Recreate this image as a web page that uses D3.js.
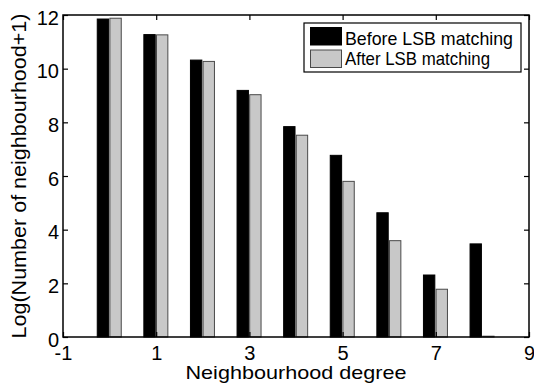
<!DOCTYPE html>
<html>
<head>
<meta charset="utf-8">
<script src="https://cdnjs.cloudflare.com/ajax/libs/d3/7.8.5/d3.min.js"></script>
<style>
  body { margin: 0; background: #fff; }
  text { font-family: "Liberation Sans", Arial, sans-serif; fill: #000; }
</style>
</head>
<body>
<div id="chart"></div>
<script>
const degrees = [0, 1, 2, 3, 4, 5, 6, 7, 8];
const beforeLSB = [11.85, 11.27, 10.32, 9.19, 7.84, 6.77, 4.63, 2.31, 3.47];
const afterLSB  = [11.88, 11.26, 10.27, 9.03, 7.52, 5.80, 3.59, 1.78, 0.03];
const seriesNames = ["Before LSB matching", "After LSB matching"];
const xTicks = [-1, 1, 3, 5, 7, 9];
const yTicks = [0, 2, 4, 6, 8, 10, 12];

const width  = 534;
const height = 390;
const margin = { top: 15, right: 5, bottom: 53, left: 63 };
const innerWidth  = width  - margin.left - margin.right;
const innerHeight = height - margin.top  - margin.bottom;

const svg = d3.select("#chart")
  .append("svg")
  .attr("width", width)
  .attr("height", height);

const inner = svg.append("g")
  .attr("transform", `translate(${margin.left}, ${margin.top})`);

const xScale = d3.scaleLinear().domain([-1, 9]).range([0, innerWidth]);
const yScale = d3.scaleLinear().domain([0, 12]).range([innerHeight, 0]);

// offset of each series inside a group, in x units
const subScale = d3.scaleBand()
  .domain(seriesNames)
  .range([-0.265, 0.25])
  .paddingInner(0.1);

const colors = { fill: ["#000000", "#c8c8c8"], stroke: ["#000000", "#4a4a4a"] };

const rows = degrees.map((d, i) => ({ degree: d, values: [beforeLSB[i], afterLSB[i]] }));

rows.forEach(row => {
  inner.selectAll(null)
    .data(row.values)
    .join("rect")
      .attr("x", (v, j) => xScale(row.degree + subScale(seriesNames[j])))
      .attr("y", v => yScale(v))
      .attr("width", xScale(subScale.bandwidth()) - xScale(0))
      .attr("height", v => yScale(0) - yScale(v))
      .attr("fill", (v, j) => colors.fill[j])
      .attr("stroke", (v, j) => colors.stroke[j])
      .attr("stroke-width", 1);
});

// axes with inward ticks on all four sides
const styleAxis = g => {
  g.select(".domain").remove();
  g.selectAll(".tick line").attr("stroke", "#000").attr("stroke-width", 1.2);
  g.selectAll(".tick text").style("font-size", "20px");
};

const plain = d => String(d);

inner.append("g")
  .attr("transform", `translate(0, ${innerHeight})`)
  .call(d3.axisBottom(xScale).tickValues(xTicks).tickFormat(plain)
    .tickSizeInner(-5).tickSizeOuter(0).tickPadding(8.8))
  .call(styleAxis);

inner.append("g")
  .call(d3.axisLeft(yScale).tickValues(yTicks).tickFormat(plain)
    .tickSizeInner(-5).tickSizeOuter(0).tickPadding(4))
  .call(styleAxis)
  .call(g => g.selectAll(".tick text").attr("dy", "0.45em"));

inner.append("g")
  .call(d3.axisTop(xScale).tickValues(xTicks).tickFormat("")
    .tickSizeInner(-5).tickSizeOuter(0))
  .call(styleAxis);

inner.append("g")
  .attr("transform", `translate(${innerWidth}, 0)`)
  .call(d3.axisRight(yScale).tickValues(yTicks).tickFormat("")
    .tickSizeInner(-5).tickSizeOuter(0))
  .call(styleAxis);

inner.append("rect")
  .attr("width", innerWidth)
  .attr("height", innerHeight)
  .attr("fill", "none")
  .attr("stroke", "#000")
  .attr("stroke-width", 1.5);

// axis labels
svg.append("text")
  .attr("x", margin.left + innerWidth / 2)
  .attr("y", 379)
  .attr("text-anchor", "middle")
  .attr("textLength", 221)
  .attr("lengthAdjust", "spacingAndGlyphs")
  .style("font-size", "19px")
  .text("Neighbourhood degree");

svg.append("text")
  .attr("transform", `translate(26, ${margin.top + innerHeight / 2}) rotate(-90)`)
  .attr("text-anchor", "middle")
  .attr("textLength", 325)
  .attr("lengthAdjust", "spacingAndGlyphs")
  .style("font-size", "19.5px")
  .text("Log(Number of neighbourhood+1)");

// legend
const legend = svg.append("g");

legend.append("rect")
  .attr("x", 304).attr("y", 23)
  .attr("width", 217).attr("height", 49)
  .attr("fill", "#fff")
  .attr("stroke", "#000")
  .attr("stroke-width", 1.2);

seriesNames.forEach((name, i) => {
  legend.append("rect")
    .attr("x", 310.5).attr("y", 27.5 + i * 22.5)
    .attr("width", 31).attr("height", 17.5)
    .attr("fill", colors.fill[i])
    .attr("stroke", colors.stroke[i]);
  legend.append("text")
    .attr("x", 345).attr("y", 44.7 + i * 20.5)
    .attr("textLength", i === 0 ? 168 : 145)
    .attr("lengthAdjust", "spacingAndGlyphs")
    .style("font-size", "19px")
    .text(name);
});
</script>
</body>
</html>
